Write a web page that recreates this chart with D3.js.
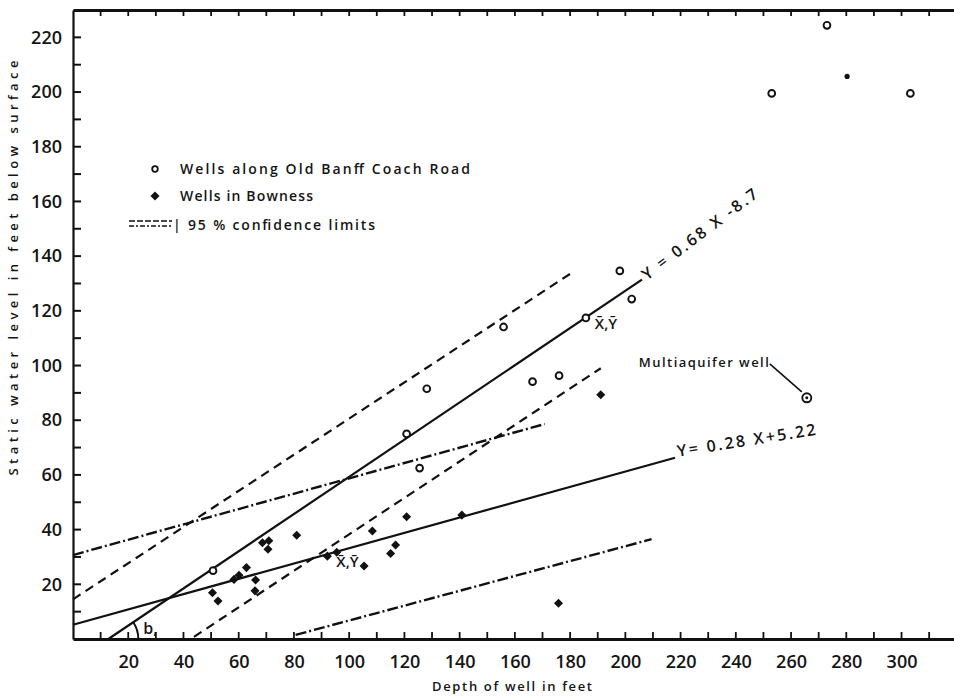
<!DOCTYPE html>
<html>
<head>
<meta charset="utf-8">
<script src="https://cdn.jsdelivr.net/npm/d3@7"></script>
<style>
    body { margin: 0; background: #fff; }
    text { font-family: "Open Sans", "DejaVu Sans", sans-serif; fill: #151515; }
</style>
</head>
<body>
<svg id="chart"></svg>
<script>
// wells along Old Banff Coach Road (depth ft, static level ft)
let banffDepth = [50.7, 120.8, 125.5, 128.1, 155.9, 166.4, 176.0, 185.7, 198.0, 202.3, 253.0, 273.0, 303.2];
let banffLevel = [25.0, 75.0, 62.5, 91.5, 114.1, 94.1, 96.3, 117.4, 134.6, 124.3, 199.5, 224.4, 199.5];

// wells in Bowness
let bownessDepth = [50.5, 52.5, 58.3, 60.1, 62.8, 66.1, 65.9, 68.6, 70.9, 70.6, 81.0, 92.1, 95.5,
    105.4, 108.4, 115.0, 116.8, 120.8, 140.8, 175.8, 191.1];
let bownessLevel = [16.9, 13.9, 21.8, 23.3, 26.1, 21.6, 17.6, 35.2, 35.9, 32.8, 37.9, 30.3, 31.7,
    26.7, 39.5, 31.3, 34.4, 44.7, 45.3, 13.1, 89.3];

// odd points
let multiaquifer = [265.7, 88.2];
let smallDot = [280.3, 205.7];

// regression lines: slope, intercept, x range
let fitSlope = [0.68, 0.28];
let fitIntercept = [-8.7, 5.22];
let fitRange = [[12.8, 206], [0, 218]];
let fitLabels = ["Y = 0.68 X -8.7", "Y= 0.28 X+5.22"];

// 95% confidence limits, end points
let confDashed = [[[0, 14.5], [181.2, 134.3]], [[43.8, 0.8], [191.1, 99.0]]];
let confDashDot = [[[0, 30.7], [170.8, 78.6]], [[80.6, 1.5], [209.5, 36.5]]];

// means of the two groups
let means = [[185.7, 117.4], [92.1, 30.3]];

let xTicks = d3.range(10, 320, 10);
let yTicks = d3.range(10, 230, 10);

let margin = {top: 10, right: 0, bottom: 57, left: 73},
    width = 954 - margin.left - margin.right,
    height = 696 - margin.top - margin.bottom;

let svg = d3.select("#chart")
    .attr("width", width + margin.left + margin.right)
    .attr("height", height + margin.top + margin.bottom)
    .append("g")
    .attr("transform", "translate(" + margin.left + "," + margin.top + ")");

let x = d3.scaleLinear().domain([0, 319]).range([0, width]);
let y = d3.scaleLinear().domain([0, 230]).range([height, 0]);

// axes: labels from d3 axes, inward tick marks drawn below
let leftAxis = svg.append("g")
    .call(d3.axisLeft(y).tickValues(yTicks).tickSize(0).tickPadding(11)
        .tickFormat(function (d) { return d % 20 === 0 ? d : ""; }));
let bottomAxis = svg.append("g")
    .attr("transform", "translate(0," + height + ")")
    .call(d3.axisBottom(x).tickValues(xTicks).tickSize(0).tickPadding(16)
        .tickFormat(function (d) { return (d % 20 === 0 && d <= 300) ? d : ""; }));
let topAxis = svg.append("g")
    .call(d3.axisTop(x).tickValues(xTicks).tickSize(0).tickFormat(""));

leftAxis.select(".domain").attr("stroke-width", 2.2);
bottomAxis.select(".domain").attr("stroke-width", 3);
topAxis.select(".domain").attr("stroke-width", 3);
svg.selectAll(".domain").attr("stroke", "#111");
svg.selectAll(".tick text")
    .style("font-size", "18px")
    .style("font-weight", "600")
    .attr("fill", "#151515");

svg.append("g").selectAll("line").data(yTicks).enter()
    .append("line")
    .attr("x1", 0).attr("x2", 8)
    .attr("y1", function (d) { return y(d); })
    .attr("y2", function (d) { return y(d); })
    .attr("stroke", "#111").attr("stroke-width", 2);
svg.append("g").selectAll("line").data(xTicks).enter()
    .append("line")
    .attr("x1", function (d) { return x(d); })
    .attr("x2", function (d) { return x(d); })
    .attr("y1", height).attr("y2", height - 7)
    .attr("stroke", "#111").attr("stroke-width", 1.8);
svg.append("g").selectAll("line").data(xTicks).enter()
    .append("line")
    .attr("x1", function (d) { return x(d); })
    .attr("x2", function (d) { return x(d); })
    .attr("y1", 0).attr("y2", 6)
    .attr("stroke", "#111").attr("stroke-width", 1.8);

// axis titles
svg.append("text")
    .attr("transform", "translate(" + (18 - margin.left) + "," + 258 + ") rotate(-90)")
    .attr("text-anchor", "middle")
    .attr("textLength", 415)
    .attr("lengthAdjust", "spacing")
    .style("font-size", "13px")
    .style("font-weight", "600")
    .text("Static water level in feet below surface");

svg.append("text")
    .attr("x", 512 - margin.left)
    .attr("y", height + 52)
    .attr("text-anchor", "middle")
    .attr("textLength", 160)
    .attr("lengthAdjust", "spacing")
    .style("font-size", "13px")
    .style("font-weight", "600")
    .text("Depth of well in feet");

// lines
let line = d3.line()
    .x(function (d) { return x(d[0]); })
    .y(function (d) { return y(d[1]); });

for (let i = 0; i < fitSlope.length; i++) {
    let pts = fitRange[i].map(function (v) { return [v, fitSlope[i] * v + fitIntercept[i]]; });
    svg.append("path")
        .attr("d", line(pts))
        .attr("fill", "none")
        .attr("stroke", "#111")
        .attr("stroke-width", 2.2);
}

svg.selectAll(".conf-dash").data(confDashed).enter()
    .append("path")
    .attr("d", line)
    .attr("fill", "none")
    .attr("stroke", "#111")
    .attr("stroke-width", 2.2)
    .attr("stroke-dasharray", "9,6");

svg.selectAll(".conf-dashdot").data(confDashDot).enter()
    .append("path")
    .attr("d", line)
    .attr("fill", "none")
    .attr("stroke", "#111")
    .attr("stroke-width", 2.4)
    .attr("stroke-dasharray", "11,3,2,3");

// equation labels
let e1x = fitRange[0][1], e1y = fitSlope[0] * e1x + fitIntercept[0];
svg.append("text")
    .attr("transform", "translate(" + (x(e1x) + 5) + "," + (y(e1y) + 1) + ") rotate(-37)")
    .attr("textLength", 140)
    .attr("lengthAdjust", "spacing")
    .style("font-size", "16px")
    .style("font-weight", "600")
    .text(fitLabels[0]);

let e2x = fitRange[1][1], e2y = fitSlope[1] * e2x + fitIntercept[1];
svg.append("text")
    .attr("transform", "translate(" + (x(e2x) + 3) + "," + (y(e2y) - 1) + ") rotate(-9)")
    .attr("textLength", 140)
    .attr("lengthAdjust", "spacing")
    .style("font-size", "16px")
    .style("font-weight", "600")
    .text(fitLabels[1]);

// angle b at the x intercept of the first fit
let cx = x(fitRange[0][0]), cy = y(0), r = 30;
let ang = Math.atan2(y(fitSlope[0] * 10) - y(0), x(10) - x(0));
svg.append("path")
    .attr("d", "M" + (cx + r) + "," + cy + " A" + r + "," + r + " 0 0 0 " +
        (cx + r * Math.cos(ang)) + "," + (cy + r * Math.sin(ang)))
    .attr("fill", "none")
    .attr("stroke", "#111")
    .attr("stroke-width", 2);
svg.append("text")
    .attr("x", cx + 35)
    .attr("y", cy - 5)
    .style("font-size", "16px")
    .style("font-weight", "600")
    .text("b,");

// mean labels
svg.selectAll(".mean").data(means).enter()
    .append("text")
    .attr("x", function (d) { return x(d[0]) + 9; })
    .attr("y", function (d) { return y(d[1]) + 11; })
    .style("font-size", "15px")
    .style("font-weight", "600")
    .text("X\u0304,Y\u0304");

// points
let diamond = d3.symbol().type(d3.symbolDiamond2).size(52);
svg.selectAll(".bow").data(d3.range(bownessDepth.length)).enter()
    .append("path")
    .attr("d", diamond)
    .attr("transform", function (i) {
        return "translate(" + x(bownessDepth[i]) + "," + y(bownessLevel[i]) + ")";
    })
    .attr("fill", "#111");

svg.selectAll(".banff").data(d3.range(banffDepth.length)).enter()
    .append("circle")
    .attr("cx", function (i) { return x(banffDepth[i]); })
    .attr("cy", function (i) { return y(banffLevel[i]); })
    .attr("r", 3.4)
    .attr("fill", "#fff")
    .attr("stroke", "#111")
    .attr("stroke-width", 1.9);

svg.append("circle")
    .attr("cx", x(smallDot[0]))
    .attr("cy", y(smallDot[1]))
    .attr("r", 2.6)
    .attr("fill", "#111");

let mx = x(multiaquifer[0]), my = y(multiaquifer[1]);
svg.append("circle")
    .attr("cx", mx).attr("cy", my).attr("r", 4.5)
    .attr("fill", "#fff").attr("stroke", "#111").attr("stroke-width", 1.9);
svg.append("circle")
    .attr("cx", mx).attr("cy", my).attr("r", 1.5)
    .attr("fill", "#111");
svg.append("line")
    .attr("x1", mx - 37).attr("y1", my - 34)
    .attr("x2", mx - 5).attr("y2", my - 6)
    .attr("stroke", "#111").attr("stroke-width", 1.6);
svg.append("text")
    .attr("x", mx - 38)
    .attr("y", my - 31)
    .attr("text-anchor", "end")
    .attr("textLength", 130)
    .attr("lengthAdjust", "spacing")
    .style("font-size", "13px")
    .style("font-weight", "600")
    .text("Multiaquifer well");

// legend
let lg = svg.append("g").attr("transform", "translate(" + (-margin.left) + "," + (-margin.top) + ")");
lg.append("circle")
    .attr("cx", 155).attr("cy", 169).attr("r", 2.8)
    .attr("fill", "#fff").attr("stroke", "#111").attr("stroke-width", 1.8);
lg.append("text")
    .attr("x", 180).attr("y", 174)
    .attr("textLength", 290)
    .attr("lengthAdjust", "spacing")
    .style("font-size", "14px")
    .style("font-weight", "600")
    .text("Wells along Old Banff Coach Road");
lg.append("path")
    .attr("d", diamond)
    .attr("transform", "translate(155,196)")
    .attr("fill", "#111");
lg.append("text")
    .attr("x", 180).attr("y", 201)
    .attr("textLength", 133)
    .attr("lengthAdjust", "spacing")
    .style("font-size", "14px")
    .style("font-weight", "600")
    .text("Wells in Bowness");
lg.append("line")
    .attr("x1", 129).attr("y1", 221).attr("x2", 172).attr("y2", 221)
    .attr("stroke", "#111").attr("stroke-width", 1.6).attr("stroke-dasharray", "6,2");
lg.append("line")
    .attr("x1", 129).attr("y1", 226).attr("x2", 172).attr("y2", 226)
    .attr("stroke", "#111").attr("stroke-width", 1.6).attr("stroke-dasharray", "5,2,2,2");
lg.append("text")
    .attr("x", 173).attr("y", 230)
    .attr("textLength", 202)
    .attr("lengthAdjust", "spacing")
    .style("font-size", "14px")
    .style("font-weight", "600")
    .text("| 95 % confidence limits");
</script>
</body>
</html>
